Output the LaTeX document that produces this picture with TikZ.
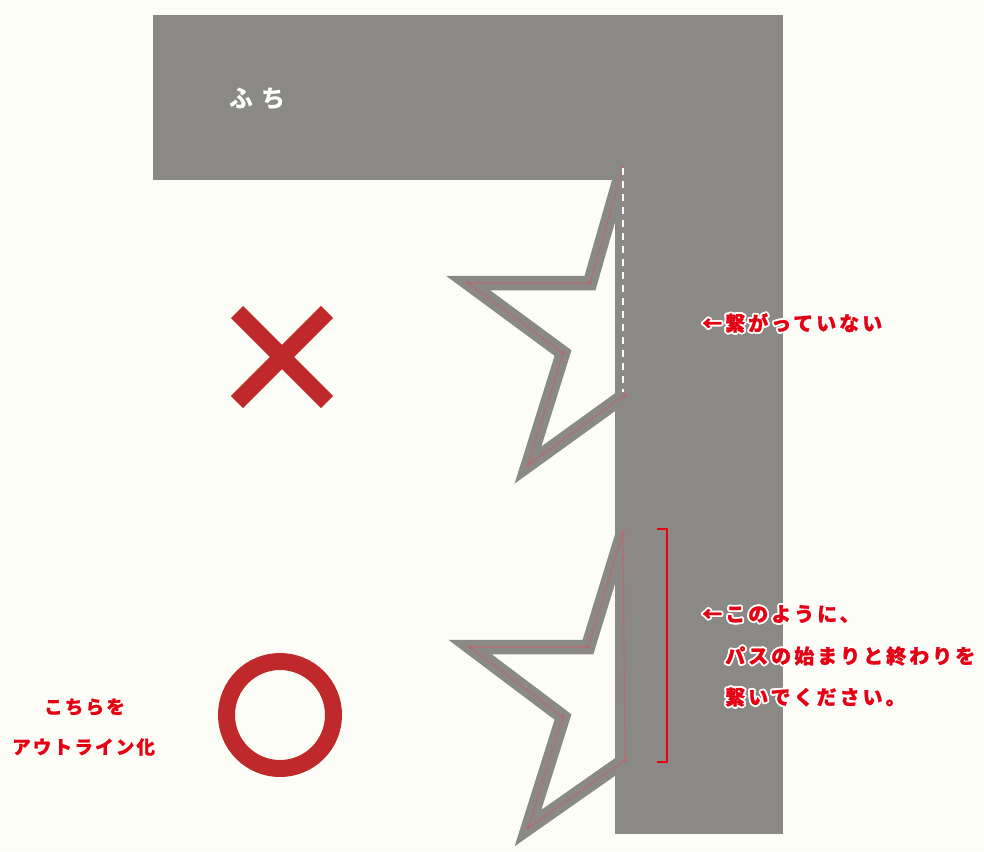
\documentclass[tikz,border=0pt]{standalone}
\usepackage{fontspec}
\usetikzlibrary{calc}
\newfontfamily\jp{Noto Sans CJK JP}
\definecolor{bgc}{HTML}{FDFDF7}
\definecolor{framegray}{HTML}{8A8985}
\definecolor{markred}{HTML}{C0292B}
\definecolor{labelred}{HTML}{E50012}
\definecolor{pathred}{HTML}{C8606A}
\tikzset{
  lbl/.style={inner sep=0pt, anchor=west, font=\jp\bfseries\fontsize{20}{20}\selectfont\addfontfeature{LetterSpace=15,FakeBold=1}},
  lbls/.style={inner sep=0pt, anchor=west, text=labelred, font=\jp\bfseries\fontsize{18.5}{18.5}\selectfont\addfontfeature{LetterSpace=12,FakeBold=1}},
  starline/.style={draw=framegray, line width=14.5pt, line join=miter, miter limit=10},
  selpath/.style={draw=pathred, line width=1.1pt, opacity=0.7},
  anchordot/.style={fill=pathred, opacity=0.8},
  markstroke/.style={draw=markred, line width=17pt}
}
\newcommand\halolabel[3]{% name, position, text
  \foreach \ang in {0,22.5,...,337.5}{\node[lbl,text=white] at ($(#2)+(\ang:1.8pt)$) {#3};}
  \node[lbl,text=labelred] (#1) at (#2) {#3};}
\begin{document}
\begin{tikzpicture}[x=1pt,y=-1pt]
\useasboundingbox (0,0) rectangle (984,851);
\fill[bgc] (0,0) rectangle (984,851);
% frame
\fill[framegray] (153,15) rectangle (783,180);
\fill[framegray] (615,15) rectangle (783,834);
\node[inner sep=0pt, anchor=west, text=white, font=\jp\bfseries\fontsize{24}{24}\selectfont\addfontfeature{LetterSpace=38}] (fuchi) at (229,99) {ふち};
% top star (not connected)
\coordinate (a1) at (623,168);
\coordinate (a2) at (590,283);
\coordinate (a3) at (468,283);
\coordinate (a4) at (563,353);
\coordinate (a5) at (528,465);
\coordinate (a6) at (625,395);
\draw[starline] (a1) -- (a2) -- (a3) -- (a4) -- (a5) -- (a6);
\draw[selpath] (a1) -- (a2) -- (a3) -- (a4) -- (a5) -- (a6);
\foreach \p in {a1,a2,a3,a4,a5,a6}{\fill[anchordot] (\p) circle (1.8pt);}
\coordinate (dashend) at (623,392);
\draw[white, line width=1.3pt, dash pattern=on 7pt off 6pt] (a1) -- (dashend);
% bottom star (connected)
\coordinate (b1) at (623,533);
\coordinate (b2) at (588,647);
\coordinate (b3) at (470,647);
\coordinate (b4) at (563,717);
\coordinate (b5) at (528,828);
\coordinate (b6) at (625,760);
\draw[starline] (b1) -- (b2) -- (b3) -- (b4) -- (b5) -- (b6) -- cycle;
\draw[selpath] (b1) -- (b2) -- (b3) -- (b4) -- (b5) -- (b6) -- cycle;
\foreach \p in {b1,b2,b3,b4,b5,b6}{\fill[anchordot] (\p) circle (1.8pt);}
% bracket
\coordinate (k1) at (657,529);
\coordinate (k2) at (667,529);
\coordinate (k3) at (667,762);
\coordinate (k4) at (657,762);
\draw[labelred, line width=2.5pt] (k1) -- (k2) -- (k3) -- (k4);
% cross and circle
\coordinate (x1) at (237,312);
\coordinate (x2) at (327,402);
\coordinate (x3) at (327,312);
\coordinate (x4) at (237,402);
\draw[markstroke] (x1) -- (x2);
\draw[markstroke] (x3) -- (x4);
\coordinate (oc) at (280,715);
\draw[markstroke] (oc) circle (53.5pt);
% labels
\halolabel{t1}{702,323}{←繋がっていない}
\halolabel{t2}{702,614}{←このように、}
\halolabel{t3}{725,656}{パスの始まりと終わりを}
\halolabel{t4}{725,697}{繋いでください。}
\node[lbls] (l1) at (44,707) {こちらを};
\node[lbls] (l2) at (12,747) {アウトライン化};
\end{tikzpicture}
\end{document}
